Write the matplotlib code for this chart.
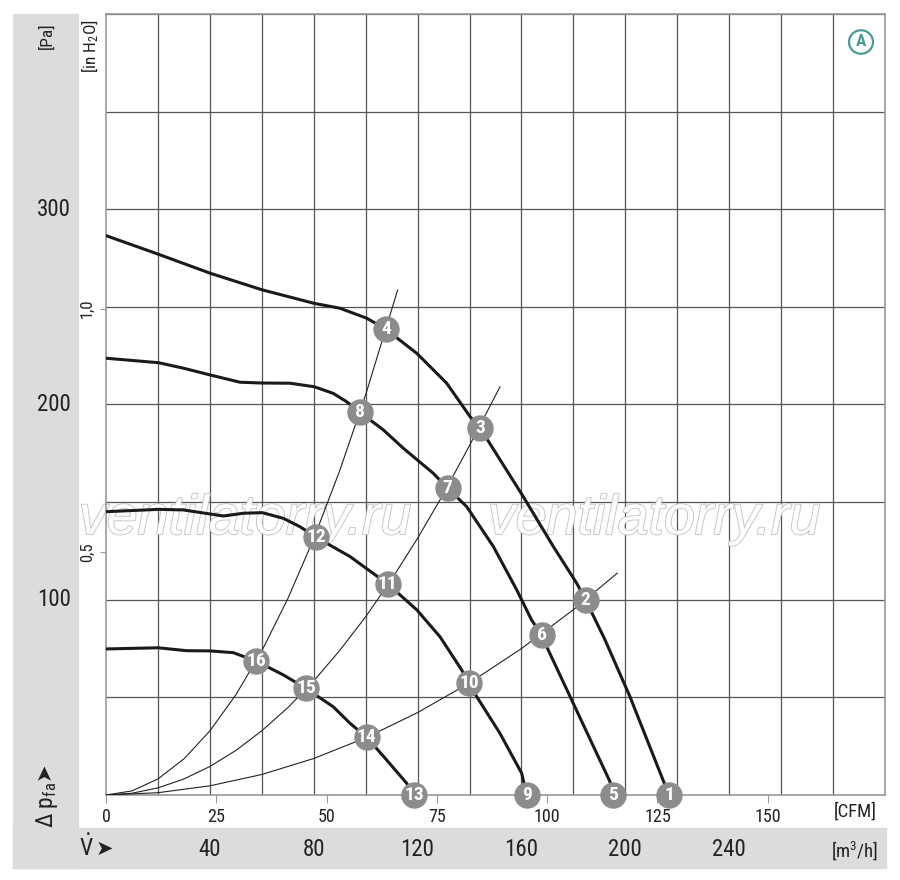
import matplotlib
matplotlib.use('Agg')
import matplotlib.pyplot as plt
import matplotlib.patheffects as pe
from matplotlib import font_manager
from matplotlib.patches import Rectangle, Circle
from matplotlib.transforms import blended_transform_factory
import numpy as np

# pick a condensed sans if one is installed
names = {f.name for f in font_manager.fontManager.ttflist}
narrow = 'Liberation Sans'
for cand in ['Roboto Condensed', 'Archivo Narrow', 'PT Sans Narrow', 'Fira Sans Condensed',
             'Barlow Semi Condensed', 'Liberation Sans Narrow', 'Open Sans Condensed']:
    if cand in names:
        narrow = cand
        break
FONT = [narrow, 'DejaVu Sans']
plt.rcParams['font.family'] = FONT
plt.rcParams['mathtext.fontset'] = 'custom'
plt.rcParams['mathtext.rm'] = narrow
plt.rcParams['mathtext.it'] = narrow + ':italic'

# fan curves, flow in m3/h, pressure in Pa
curve1_x = [0, 20.3, 40.2, 60.2, 80.2, 90.1, 100.4, 107.8, 119.7, 131.2, 140.2, 144.0,
            160.7, 172.3, 181.3, 184.7, 192.2, 201.8, 216.8]
curve1_y = [286.5, 276.9, 267.2, 258.7, 251.8, 249.3, 244.2, 238.5, 226.2, 210.9, 193.8, 188.1,
            152.8, 127.2, 108.4, 99.9, 79.4, 50.3, 0]
curve2_x = [0, 20.3, 29.8, 40.2, 51.6, 60.2, 70.9, 80.2, 87.5, 92.7, 97.8, 106.8, 114.5,
            126.0, 131.6, 138.9, 149.2, 158.2, 163.9, 167.8, 169.7, 194.1, 195.4]
curve2_y = [223.7, 221.4, 218.6, 215.1, 211.4, 211.0, 210.9, 209.1, 205.7, 201.4, 196.0, 187.0, 177.6,
            164.8, 157.1, 147.7, 127.2, 105.0, 89.6, 82.0, 76.0, 6.8, 0]
curve3_x = [0, 20.3, 29.8, 40.2, 45.2, 52.9, 60.2, 68.3, 74.7, 80.9, 94.0, 108.5, 119.7,
            128.6, 137.0, 139.8, 142.8, 151.7, 160.1, 162.0]
curve3_y = [145.1, 146.3, 146.0, 143.9, 142.9, 144.3, 144.6, 141.7, 137.4, 132.0, 122.1, 108.1, 94.8,
            81.1, 64.0, 57.2, 50.3, 31.6, 11.1, 0]
curve4_x = [0, 20.1, 31.1, 40.2, 49.0, 57.8, 68.3, 77.0, 87.5, 94.0, 100.4, 108.1, 115.8, 118.6]
curve4_y = [74.8, 75.4, 73.9, 73.8, 72.9, 68.6, 61.5, 54.6, 45.2, 36.7, 29.6, 17.9, 6.0, 0]

# system resistance curves
sys1_x = [0, 10, 20, 30, 40, 50, 60, 70, 80, 90, 100, 112.3]
sys1_y = [0, 2.1, 8.2, 18.5, 32.8, 51.3, 73.8, 100.5, 131.2, 166.1, 205, 258.6]
sys2_x = [0, 10, 20, 30, 40, 50, 60, 70, 80, 90, 100, 110, 120, 130, 140, 151.7]
sys2_y = [0, 0.9, 3.65, 8.2, 14.6, 22.8, 32.9, 44.7, 58.4, 74.0, 91.3, 110.5, 131.5, 154.3, 179, 209]
sys3_x = [0, 20, 40, 60, 80, 100, 120, 140, 160, 180, 196.9]
sys3_y = [0, 1.17, 4.7, 10.5, 18.7, 29.3, 42.2, 57.4, 75, 94.9, 113.6]

# operating points
point_labels = [str(i) for i in range(1, 17)]
point_x = [216.8, 184.7, 144.0, 107.8, 195.4, 167.8, 131.6, 97.8,
           162.0, 139.8, 108.5, 80.9, 118.6, 100.4, 77.0, 57.8]
point_y = [0, 99.9, 188.1, 238.5, 0, 82.0, 157.1, 196.0,
           0, 57.2, 108.1, 132.0, 0, 29.6, 54.6, 68.6]

cfm_ticks = [0, 25, 50, 75, 100, 125, 150]
m3h_ticks = [40, 80, 120, 160, 200, 240]
pa_ticks = [100, 200, 300]
inh2o_ticks = [0.5, 1.0]
inh2o_labels = ['0,5', '1,0']

W, H = 900, 880
fig = plt.figure(figsize=(W / 100, H / 100), dpi=100)


def fx(px):
    return px / W


def fy(py):
    return 1 - py / H


band = '#dcdcdc'
fig.patches.append(Rectangle((fx(13), fy(868)), fx(78) - fx(13), fy(14) - fy(868),
                             transform=fig.transFigure, color=band, zorder=-1))
fig.patches.append(Rectangle((fx(13), fy(868)), fx(886) - fx(13), fy(828) - fy(868),
                             transform=fig.transFigure, color=band, zorder=-1))

ax = fig.add_axes([fx(106), fy(795), fx(885) - fx(106), fy(14) - fy(795)])
ax.set_xlim(0, 300)
ax.set_ylim(0, 400)

ax.set_xticks(np.arange(0, 301, 20), minor=True)
ax.set_yticks(np.arange(0, 401, 50), minor=True)
ax.grid(which='minor', color='#555555', linewidth=0.9, zorder=1)
ax.tick_params(which='minor', length=0)
for s in ax.spines.values():
    s.set_color('#999999')
    s.set_linewidth(1.2)

ax.set_xticks([c * 1.699 for c in cfm_ticks])
ax.set_xticklabels([str(c) for c in cfm_ticks], fontsize=13, color='#222222')
ax.tick_params(axis='x', which='major', length=6, color='#999999', pad=3)
ax.set_yticks([v * 249.09 for v in inh2o_ticks])
ax.set_yticklabels(inh2o_labels, rotation=90, va='center', fontsize=12, color='#222222')
ax.tick_params(axis='y', which='major', length=4, color='#999999', pad=4)

# watermark (outlined text)
for cx in (245, 654):
    ax.text(fx(cx), fy(520), 'ventilatorry.ru', fontsize=40, style='italic',
            family=['Liberation Sans', 'DejaVu Sans'], color='white',
            ha='center', va='center', zorder=2, transform=fig.transFigure, clip_on=False,
            path_effects=[pe.Stroke(linewidth=1.3, foreground='#c4c4c4'), pe.Normal()])

for sx, sy in ((sys1_x, sys1_y), (sys2_x, sys2_y), (sys3_x, sys3_y)):
    ax.plot(sx, sy, color='#222222', linewidth=0.8, zorder=3)
for cx_, cy_ in ((curve1_x, curve1_y), (curve2_x, curve2_y),
                 (curve3_x, curve3_y), (curve4_x, curve4_y)):
    ax.plot(cx_, cy_, color='#1a1a1a', linewidth=2.2, zorder=4,
            solid_joinstyle='round', solid_capstyle='round')

for lab, px_, py_ in zip(point_labels, point_x, point_y):
    ax.plot(px_, py_, 'o', markersize=18, color='#8c8c8c', markeredgecolor='#8c8c8c',
            zorder=5, clip_on=False)
    ax.text(px_, py_, lab, color='white', fontsize=14, fontweight='bold',
            ha='center', va='center', zorder=6, clip_on=False)

# Pa labels on the left band
tr_y = blended_transform_factory(fig.transFigure, ax.transData)
for v in pa_ticks:
    ax.text(fx(54), v, str(v), transform=tr_y, fontsize=16.5, ha='center', va='center',
            color='#222222', clip_on=False)

# m3/h labels in the bottom band
tr_x = blended_transform_factory(ax.transData, fig.transFigure)
for v in m3h_ticks:
    ax.text(v, fy(849), str(v), transform=tr_x, fontsize=16.5, ha='center', va='center',
            color='#222222', clip_on=False)

fig.text(fx(47), fy(36), '[Pa]', rotation=90, fontsize=12.5, ha='center', va='center',
         color='#222222')
fig.text(fx(90), fy(46), '[in H$_2$O]', rotation=90, fontsize=12.5, ha='center', va='center',
         color='#222222')
fig.text(fx(47), fy(805), r'$\Delta$ p$_{\mathrm{fa}}$', rotation=90, fontsize=17,
         ha='center', va='center', color='#222222')
fig.text(fx(44), fy(771), '➤', rotation=90, fontsize=15, ha='center', va='center',
         color='#222222', family='DejaVu Sans')
fig.text(fx(86), fy(848), r'$\dot{\mathrm{V}}$', fontsize=17, ha='center', va='center',
         color='#222222')
fig.text(fx(104), fy(849), '➤', fontsize=15, ha='center', va='center',
         color='#222222', family='DejaVu Sans')
fig.text(fx(855), fy(812), '[CFM]', fontsize=13.5, ha='center', va='center', color='#222222')
fig.text(fx(855), fy(851), '[m$^3$/h]', fontsize=13.5, ha='center', va='center', color='#222222')

# "A" badge
fig.patches.append(Circle((fx(861), fy(42)), 12 / W, transform=fig.transFigure,
                          facecolor='white', edgecolor='#4a9a94', linewidth=1.6, zorder=7))
fig.text(fx(861), fy(42), 'A', fontsize=12.5, fontweight='bold', color='#4a9a94',
         ha='center', va='center', zorder=8)

fig.savefig('out.png', dpi=100)
